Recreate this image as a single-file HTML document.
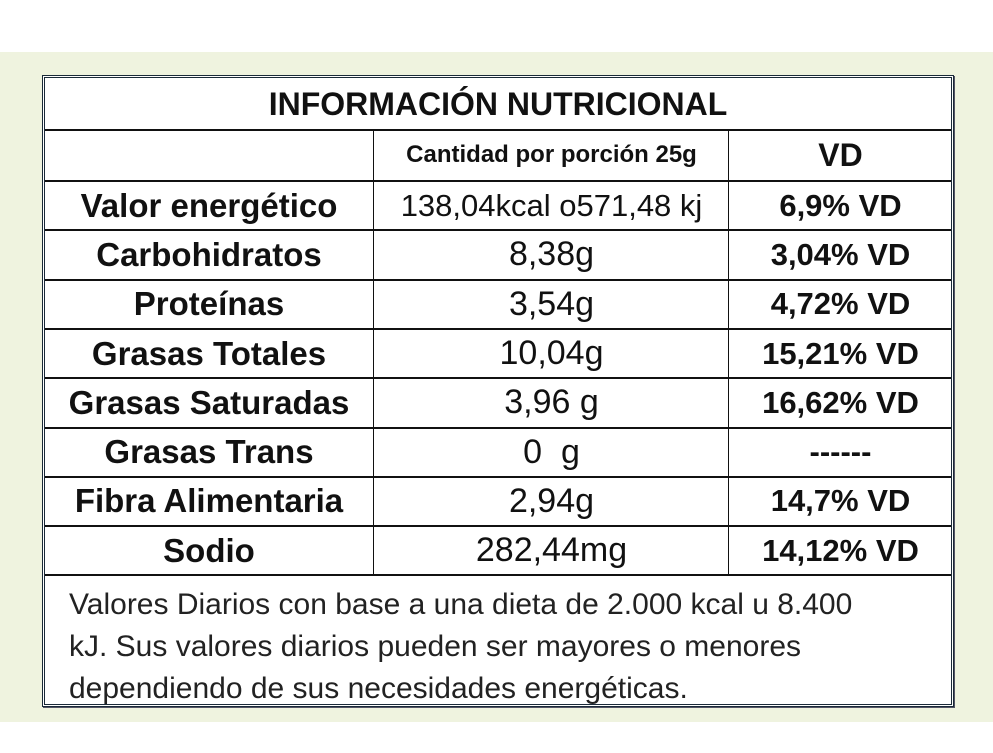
<!DOCTYPE html>
<html><head><meta charset="utf-8"><style>
body{margin:0;width:993px;height:753px;background:#fff;position:relative;overflow:hidden;font-family:"Liberation Sans",sans-serif;color:#111}
#bg{position:absolute;left:0;top:52px;width:993px;height:670px;background:#eff3df}
#tbl{position:absolute;left:42px;top:75px;width:906px;height:626px;background:#fff;border:3px double #1a2a38;box-shadow:1px 1px 0 #556}
.h{position:absolute;left:0;width:906px;height:0;border-top:2px solid #111}
.v{position:absolute;width:0;border-left:1.5px solid #111}
.c{position:absolute;display:flex;align-items:center;justify-content:center;white-space:nowrap}
</style></head><body>
<div id="bg"></div>
<div id="tbl">
<div class="c" style="left:0;top:0;width:906px;height:52px;font-size:32px;font-weight:bold">INFORMACIÓN NUTRICIONAL</div>
<div class="h" style="top:51px"></div>
<div class="v" style="left:328px;top:52px;height:445px"></div>
<div class="v" style="left:683px;top:52px;height:445px"></div>
<div class="c" style="left:330px;top:52px;width:353px;height:50px;font-size:24px;font-weight:bold">Cantidad por porción 25g</div>
<div class="c" style="left:685px;top:52px;width:221px;height:50px;font-size:32px;font-weight:bold">VD</div>
<div id="rows"></div>
<div class="h" style="top:496px"></div>
<div style="position:absolute;left:24px;top:506px;width:880px;font-size:30px;line-height:42px;color:#222;white-space:nowrap">Valores Diarios con base a una dieta de 2.000 kcal u 8.400<br>kJ. Sus valores diarios pueden ser mayores o menores<br>dependiendo de sus necesidades energéticas.</div>
</div>
<script>
const names=["Valor energético","Carbohidratos","Proteínas","Grasas Totales","Grasas Saturadas","Grasas Trans","Fibra Alimentaria","Sodio"];
const amounts=["138,04kcal o571,48 kj","8,38g","3,54g","10,04g","3,96 g","0  g","2,94g","282,44mg"];
const vds=["6,9% VD","3,04% VD","4,72% VD","15,21% VD","16,62% VD","------","14,7% VD","14,12% VD"];
const rows=document.getElementById('rows');
const top0=102,rh=49.3;
names.forEach((n,i)=>{
  const y=top0+i*rh;
  const line=document.createElement('div');line.className='h';line.style.top=y+'px';
  
  
  rows.appendChild(line);
  const a=document.createElement('div');a.className='c';
  
  
  a.style.cssText=`left:0;top:${y+1}px;width:328px;height:${rh}px;font-size:33px;font-weight:bold`;
  a.textContent=n;rows.appendChild(a);
  const b=document.createElement('div');b.className='c';
  
  
  b.style.cssText=`left:330px;top:${y+1}px;width:353px;height:${rh}px;font-size:${i==0?31:34}px;white-space:pre`;
  b.textContent=amounts[i];rows.appendChild(b);
  const c=document.createElement('div');c.className='c';
  
  
  c.style.cssText=`left:685px;top:${y+1}px;width:221px;height:${rh}px;font-size:31px;font-weight:bold`;
  c.textContent=vds[i];rows.appendChild(c);
});
</script>
</body></html>
